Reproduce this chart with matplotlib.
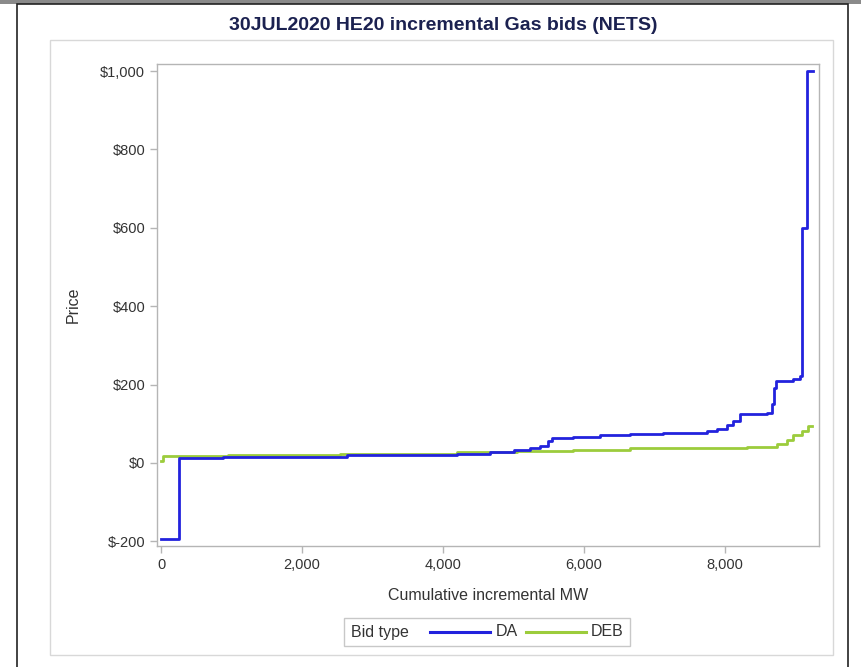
import matplotlib
matplotlib.use("Agg")
import matplotlib.pyplot as plt
from matplotlib.patches import Rectangle
from matplotlib.lines import Line2D
from matplotlib.offsetbox import HPacker, TextArea, DrawingArea, AnchoredOffsetbox
from matplotlib.ticker import FuncFormatter

plt.rcParams['font.family'] = ['Liberation Sans', 'DejaVu Sans']

# ---- data ----
da_mw = [0, 255, 880, 2640, 4200, 4670, 5000, 5230, 5380, 5490, 5550, 5850, 6230,
         6650, 7120, 7740, 7890, 8030, 8110, 8210, 8600, 8670, 8690, 8720, 8960,
         9060, 9085, 9160, 9250]
da_price = [-194, 13, 16, 20, 23, 29, 33, 37, 44, 55, 63, 66, 70,
            73, 77, 82, 86, 97, 108, 125, 128, 150, 192, 210, 215,
            222, 600, 1000, 1000]

deb_mw = [0, 25, 950, 2540, 4200, 5050, 5850, 6650, 8310, 8740, 8880, 8960,
          9090, 9180, 9240]
deb_price = [5, 18, 21, 24, 27, 31, 34, 37, 41, 49, 58, 70, 82, 93, 93]

x_ticks = [0, 2000, 4000, 6000, 8000]
y_ticks = [-200, 0, 200, 400, 600, 800, 1000]

title = "30JUL2020 HE20 incremental Gas bids (NETS)"
x_label = "Cumulative incremental MW"
y_label = "Price"
legend_title = "Bid type"
series_names = ["DA", "DEB"]

c_da = "#2222dd"
c_deb = "#9ccc3c"
txt = "#333333"
spine = "#b5b5b5"

W, H = 862, 667
PX = 72 / 100  # points per pixel
fig = plt.figure(figsize=(W / 100, H / 100), dpi=100)

# frames
fig.patches.append(Rectangle((0, 1 - 4 / H), 1, 4 / H, transform=fig.transFigure,
                             facecolor="#8a8a8a", edgecolor="none", zorder=-1))
fig.patches.append(Rectangle((17 / W, -0.01), (848 - 17) / W, 1.0 - 4 / H + 0.01,
                             transform=fig.transFigure, facecolor="none",
                             edgecolor="#222222", linewidth=1.2, zorder=-1))
fig.patches.append(Rectangle((50 / W, 1 - 655 / H), (833 - 50) / W, (655 - 40) / H,
                             transform=fig.transFigure, facecolor="none",
                             edgecolor="#d8d8d8", linewidth=1.0, zorder=-1))

ax = fig.add_axes([157 / W, 1 - 546 / H, (819 - 157) / W, (546 - 64) / H])
ax.plot(da_mw, da_price, drawstyle="steps-post", color=c_da, lw=2.0, zorder=3)
ax.plot(deb_mw, deb_price, drawstyle="steps-post", color=c_deb, lw=2.0, zorder=2)

ax.set_xlim(-57, 9333)
ax.set_ylim(-212, 1018)
ax.set_xticks(x_ticks)
ax.set_yticks(y_ticks)
ax.xaxis.set_major_formatter(FuncFormatter(lambda v, p: f"{int(v):,}"))
ax.yaxis.set_major_formatter(FuncFormatter(lambda v, p: f"${int(v):,}"))
ax.tick_params(axis="both", colors=spine, labelcolor=txt, labelsize=10.5,
               length=5, width=1, direction="out")
for s in ax.spines.values():
    s.set_color(spine)
    s.set_linewidth(1.0)
ax.set_xlabel(x_label, fontsize=11.5, color=txt, labelpad=12)
ax.set_ylabel(y_label, fontsize=11.5, color=txt, labelpad=14)

fig.text(443 / W, 1 - 25 / H, title, ha="center", va="center", fontsize=14,
         fontweight="bold", color="#1b2150")

# legend
def key(color, lead, length, trail):
    w = (lead + length + trail) * PX
    da = DrawingArea(w, 10, 0, 0)
    da.add_artist(Line2D([lead * PX, (lead + length) * PX], [5, 5], color=color, lw=2.2))
    return da

tp = dict(fontsize=11.5, color=txt)
items = [TextArea(legend_title, textprops=tp),
         key(c_da, 20, 60, 5),
         TextArea(series_names[0], textprops=tp),
         key(c_deb, 7, 60, 4),
         TextArea(series_names[1], textprops=tp)]
box = HPacker(children=items, align="center", pad=0, sep=1 * PX)
anch = AnchoredOffsetbox(loc="center", child=box, pad=0.45, borderpad=0,
                         frameon=True, bbox_to_anchor=(487 / W, 1 - 632 / H),
                         bbox_transform=fig.transFigure)
anch.patch.set_edgecolor("#c8c8c8")
anch.patch.set_linewidth(1.0)
fig.add_artist(anch)

fig.savefig("out.png", dpi=100)
